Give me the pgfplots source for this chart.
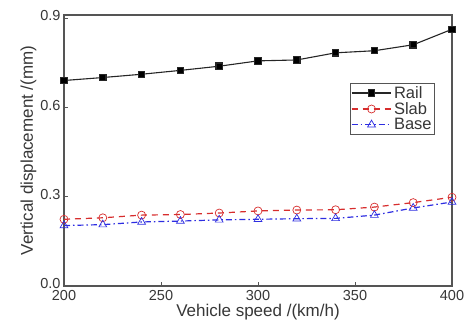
\documentclass[border=0pt]{standalone}
\usepackage{pgfplots}
\pgfplotsset{compat=1.18}
\usepackage{fontspec}
\setmainfont{Liberation Sans}
\definecolor{axgray}{RGB}{85,85,85}
\definecolor{txtgray}{RGB}{55,55,55}
\definecolor{slabred}{RGB}{215,45,45}
\definecolor{baseblue}{RGB}{45,45,225}
\begin{document}
\begin{tikzpicture}
\begin{axis}[
  scale only axis,
  width=388pt, height=271pt,
  xmin=200, xmax=400, ymin=0, ymax=0.91,
  xtick={200,250,300,350,400},
  ytick={0,0.3,0.6,0.9},
  tick align=inside,
  major tick length=4pt,
  axis line style={axgray, line width=1.1pt},
  tick style={axgray, line width=0.9pt},
  xtick pos=bottom, ytick pos=left,
  /pgf/number format/assume math mode=true,
  yticklabel style={/pgf/number format/fixed,/pgf/number format/precision=1,/pgf/number format/fixed zerofill, font=\fontsize{14.5}{16}\selectfont, text=txtgray, yshift=2pt},
  xticklabel style={font=\fontsize{14.5}{16}\selectfont, text=txtgray, yshift=-1pt},
  scaled y ticks=false,
  xlabel={Vehicle speed /(km/h)},
  ylabel={Vertical displacement /(mm)},
  label style={font=\fontsize{17}{19}\selectfont, text=txtgray},
  xlabel style={yshift=3pt},
  ylabel style={yshift=-3pt},
  legend style={at={(0.956,0.749)}, anchor=north east, draw=axgray, line width=0.6pt, font=\fontsize{16.5}{18}\selectfont, text=txtgray, inner sep=1pt, row sep=-1.5pt, /tikz/every even column/.append style={column sep=2pt}},
  legend cell align=left,
  legend image code/.code={\draw[mark repeat=2,mark phase=2] plot coordinates {(0cm,0cm)(0.7cm,0cm)(1.4cm,0cm)};},
]
\addplot[black!85, line width=1.1pt, mark=square*, mark size=3.2pt, mark options={solid, fill=black}] coordinates {
(200,0.690) (220,0.700) (240,0.711) (260,0.724) (280,0.738) (300,0.756) (320,0.759) (340,0.783) (360,0.790) (380,0.810) (400,0.862)};
\addlegendentry{Rail}
\addplot[slabred, line width=1.2pt, dash pattern=on 6pt off 5pt, mark=o, mark size=4pt, mark options={solid, fill=white, line width=0.7pt}] coordinates {
(200,0.224) (220,0.229) (240,0.238) (260,0.240) (280,0.245) (300,0.252) (320,0.255) (340,0.256) (360,0.265) (380,0.280) (400,0.298)};
\addlegendentry{Slab}
\addplot[baseblue, line width=1.2pt, dash pattern=on 6pt off 3pt on 1.5pt off 3pt, mark=triangle, mark size=4.5pt, mark options={solid, fill=blue!12, line width=0.7pt}] coordinates {
(200,0.203) (220,0.206) (240,0.215) (260,0.218) (280,0.222) (300,0.224) (320,0.226) (340,0.227) (360,0.238) (380,0.262) (400,0.282)};
\addlegendentry{Base}
\end{axis}
\pgfresetboundingbox
\path[use as bounding box] (current axis.south west) ++(-64pt,-48pt) rectangle ([shift={(13pt,15pt)}]current axis.north east);
\end{tikzpicture}
\end{document}
